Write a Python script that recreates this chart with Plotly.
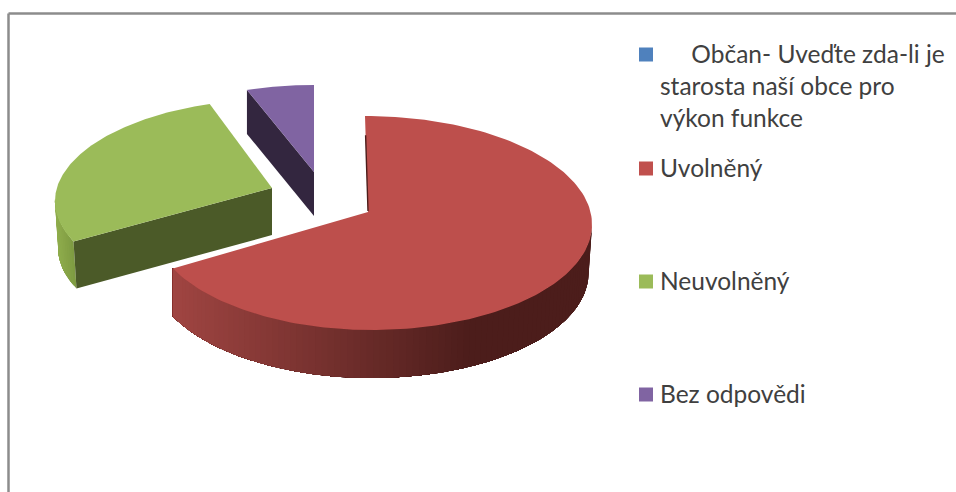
import numpy as np
import plotly.graph_objects as go

categories = ["Občan- Uveďte zda-li je starosta naší obce pro výkon funkce",
              "Uvolněný", "Neuvolněný", "Bez odpovědi"]
legend_lines = ["\u00a0\u00a0\u00a0\u00a0\u00a0Občan- Uveďte zda-li je<br>starosta naší obce pro<br>výkon funkce",
                "Uvolněný", "Neuvolněný", "Bez odpovědi"]
values = [0, 68, 27, 5]
colors = ["#4f81bd", "#c0504d", "#9bbb59", "#8064a2"]

W, H = 956, 492
# projected geometry of each exploded slice (pixels of the picture)
geom = {
    1: dict(apex=(368, 212), c=(368, 223), rx_r=224, rx_l=217, ry=107, depth=48, bottom=0.985, skew=-3),
    2: dict(apex=(272, 188), c=(272, 199), rx_r=217, rx_l=217, ry=100, depth=47, bottom=0.985, skew=5),
    3: dict(apex=(314, 172), c=(314, 185), rx_r=217, rx_l=217, ry=100, depth=44, bottom=1.0, skew=0),
}

total = sum(values)
edges = np.cumsum([0] + values) / total * 2 * np.pi


def arc(g, t, bottom=False):
    t = np.asarray(t)
    right = np.sin(t) >= 0
    rx = np.where(right, g["rx_r"], g["rx_l"])
    if bottom:
        rx = rx * g["bottom"]
        if g is geom[1]:
            rx = np.where(right, rx, g["rx_l"])
    x = g["c"][0] + rx * np.sin(t) + g["skew"] * np.cos(t)
    y = g["c"][1] - g["ry"] * np.cos(t) + (g["depth"] if bottom else 0)
    return x, y


def poly(fig, x, y, color):
    fig.add_trace(go.Scatter(x=list(x), y=list(y), mode="lines", fill="toself",
                             fillcolor=color, line=dict(color=color, width=0),
                             showlegend=False, hoverinfo="skip"))


def mix(a, b, f):
    f = min(max(f, 0), 1)
    ca = [int(a[i:i + 2], 16) for i in (1, 3, 5)]
    cb = [int(b[i:i + 2], 16) for i in (1, 3, 5)]
    return "rgb(%d,%d,%d)" % tuple(round(p + (q - p) * f) for p, q in zip(ca, cb))


def wall(fig, g, t0, t1, shade, n=60):
    # each band reaches to the far end, later bands paint over it: no seams
    ts = np.linspace(t0, t1, n + 1)
    xt, yt = arc(g, ts)
    xb, yb = arc(g, ts, bottom=True)
    for i in range(n):
        px = [*xt[i:], *xb[i:][::-1], xt[i]]
        py = [*yt[i:], *yb[i:][::-1], yt[i]]
        poly(fig, px, py, shade((xt[i] + xt[i + 1]) / 2))


def top(fig, g, t0, t1, color):
    ts = np.linspace(t0, t1, 160)
    x, y = arc(g, ts)
    poly(fig, [g["apex"][0], *x, g["apex"][0]], [g["apex"][1], *y, g["apex"][1]], color)


def cut_face(fig, g, t, color):
    x, y = arc(g, [t])
    xb, yb = arc(g, [t], bottom=True)
    ax, ay = g["apex"]
    d = g["depth"]
    poly(fig, [ax, x[0], xb[0], ax, ax], [ay, y[0], yb[0], ay + d, ay], color)


fig = go.Figure()

# purple (back)
g = geom[3]
cut_face(fig, g, edges[3], "#33263f")
top(fig, g, edges[3], edges[4], colors[3])

# green
g = geom[2]
wall(fig, g, edges[2], 1.5 * np.pi, lambda x: mix("#7f9c42", "#90ae4d", (72 - x) / 17), n=14)
cut_face(fig, g, edges[2], "#4b5a28")
top(fig, g, edges[2], edges[3], colors[2])

# red (front)
g = geom[1]
wall(fig, g, 0.5 * np.pi, edges[2], lambda x: mix("#a04542", "#4c1d1b", (x - 172) / 298), n=90)
top(fig, g, edges[1], edges[2], "#bd4f4c")
# thin dark sliver of the cut face seen along the slice's first edge
sx, sy = arc(g, [edges[1]])
ax, ay = g["apex"]
fig.add_trace(go.Scatter(x=[ax, ax + 0.8 * (sx[0] - ax)], y=[ay - 1, ay + 0.8 * (sy[0] - ay)],
                         mode="lines", line=dict(color="#4c1d1b", width=1.4),
                         showlegend=False, hoverinfo="skip"))

# legend
legend_y = [54.5, 168.5, 281.5, 394.5]
text_y = [85.5, 167.5, 280.5, 393.5]
for i, c in enumerate(categories):
    fig.add_trace(go.Scatter(x=[646], y=[legend_y[i]], mode="markers", name=c,
                             marker=dict(symbol="square", size=14, color=colors[i]),
                             showlegend=False, hoverinfo="skip"))
    fig.add_annotation(x=658, y=text_y[i], text=legend_lines[i], xref="x", yref="y",
                       xanchor="left", yanchor="middle", align="left", showarrow=False,
                       font=dict(family="Lato", size=24.5, color="#404040"))

fig.update_layout(
    width=W, height=H, margin=dict(l=0, r=0, t=0, b=0),
    paper_bgcolor="white", plot_bgcolor="white", showlegend=False,
    xaxis=dict(range=[0, W], visible=False, fixedrange=True),
    yaxis=dict(range=[H, 0], visible=False, fixedrange=True),
    shapes=[dict(type="line", xref="paper", yref="paper", x0=8.5 / W, x1=1, y0=1 - 13.5 / H, y1=1 - 13.5 / H,
                 line=dict(color="#8c8c8c", width=2.5)),
            dict(type="line", xref="paper", yref="paper", x0=8.5 / W, x1=8.5 / W, y0=0, y1=1 - 13.5 / H,
                 line=dict(color="#8c8c8c", width=2.5))],
)
fig.write_html("out.html", config={"displayModeBar": False},
               post_script="document.body.style.margin='0';document.documentElement.style.overflow='hidden';")
